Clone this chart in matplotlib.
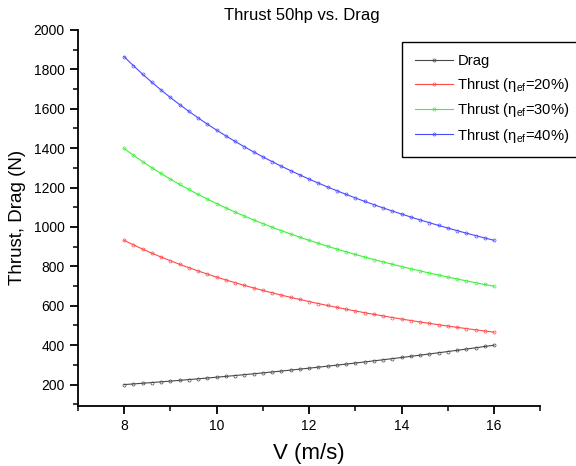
import numpy as np
import matplotlib
matplotlib.use("Agg")
import matplotlib.pyplot as plt
from matplotlib.ticker import MultipleLocator

plt.rcParams['font.family'] = ['Liberation Sans', 'DejaVu Sans']
plt.rcParams['mathtext.fontset'] = 'custom'
plt.rcParams['mathtext.rm'] = 'Liberation Sans'
plt.rcParams['mathtext.it'] = 'Liberation Sans'
plt.rcParams['mathtext.default'] = 'regular'

# Data (speed in m/s, force in N)
v = [8.0, 8.2, 8.4, 8.6, 8.8, 9.0, 9.2, 9.4, 9.6, 9.8,
     10.0, 10.2, 10.4, 10.6, 10.8, 11.0, 11.2, 11.4, 11.6, 11.8,
     12.0, 12.2, 12.4, 12.6, 12.8, 13.0, 13.2, 13.4, 13.6, 13.8,
     14.0, 14.2, 14.4, 14.6, 14.8, 15.0, 15.2, 15.4, 15.6, 15.8, 16.0]

drag = [200.0, 203.4, 206.8, 210.4, 214.0, 217.7, 221.5, 225.4, 229.3, 233.4,
        237.5, 241.7, 246.0, 250.4, 254.8, 259.4, 264.0, 268.7, 273.5, 278.4,
        283.3, 288.4, 293.5, 298.7, 304.0, 309.4, 314.8, 320.4, 326.0, 331.7,
        337.5, 343.4, 349.3, 355.4, 361.5, 367.7, 374.0, 380.4, 386.8, 393.4, 400.0]

thrust_20 = [932.1, 909.4, 887.7, 867.1, 847.4, 828.6, 810.5, 793.3, 776.8, 760.9,
             745.7, 731.1, 717.0, 703.5, 690.5, 677.9, 665.8, 654.1, 642.8, 631.9,
             621.4, 611.2, 601.4, 591.8, 582.6, 573.6, 564.9, 556.5, 548.3, 540.4,
             532.6, 525.1, 517.8, 510.8, 503.9, 497.1, 490.6, 484.2, 478.0, 472.0, 466.1]

thrust_30 = [1398.2, 1364.1, 1331.6, 1300.7, 1271.1, 1242.8, 1215.8, 1190.0, 1165.2, 1141.4,
             1118.6, 1096.6, 1075.5, 1055.3, 1035.7, 1016.9, 998.7, 981.2, 964.3, 947.9,
             932.1, 916.8, 902.1, 887.7, 873.9, 860.4, 847.4, 834.7, 822.5, 810.5,
             799.0, 787.7, 776.8, 766.1, 755.8, 745.7, 735.9, 726.3, 717.0, 707.9, 699.1]

thrust_40 = [1864.3, 1818.8, 1775.5, 1734.2, 1694.8, 1657.1, 1621.1, 1586.6, 1553.5, 1521.8,
             1491.4, 1462.2, 1434.0, 1407.0, 1380.9, 1355.8, 1331.6, 1308.2, 1285.7, 1263.9,
             1242.8, 1222.5, 1202.7, 1183.7, 1165.2, 1147.2, 1129.8, 1113.0, 1096.6, 1080.7,
             1065.3, 1050.3, 1035.7, 1021.5, 1007.7, 994.3, 981.2, 968.4, 956.0, 943.9, 932.1]

series = [
    (drag, "#484848", "Drag"),
    (thrust_20, "#ff4a4a", r"Thrust ($\eta_{ef}$=20%)"),
    (thrust_30, "#40ee40", r"Thrust ($\eta_{ef}$=30%)"),
    (thrust_40, "#4a4aff", r"Thrust ($\eta_{ef}$=40%)"),
]

fig = plt.figure(figsize=(5.76, 4.66), dpi=100)
ax = fig.add_axes([0.135, 0.129, 0.803, 0.807])

for vals, col, lab in series:
    ax.plot(v, vals, color=col, lw=0.8, marker="o", ms=2.2, mfc="none",
            mec=col, mew=0.5, label=lab)

ax.set_xlim(7, 17)
ax.set_ylim(92, 2000)
ax.xaxis.set_major_locator(MultipleLocator(2))
ax.xaxis.set_minor_locator(MultipleLocator(1))
ax.yaxis.set_major_locator(MultipleLocator(200))
ax.yaxis.set_minor_locator(MultipleLocator(100))
ax.set_yticks(np.arange(200, 2001, 200))

ax.spines["top"].set_visible(False)
ax.spines["right"].set_visible(False)
ax.spines["left"].set_lw(1.3)
ax.spines["bottom"].set_lw(1.3)
ax.tick_params(which="major", direction="out", length=6, width=1.3, labelsize=10)
ax.tick_params(which="minor", direction="out", length=3.5, width=1.1)

fig.text(0.524, 0.966, "Thrust 50hp vs. Drag", fontsize=12, ha="center", va="center")
ax.set_xlabel("V (m/s)", fontsize=16, labelpad=7)
ax.set_ylabel("Thrust, Drag (N)", fontsize=13.5, labelpad=5)

# Legend box runs off the right edge of the figure, as in the original
fig.legend(loc="upper left", bbox_to_anchor=(0.698, 0.91), fontsize=10.6,
           frameon=True, fancybox=False, edgecolor="black", framealpha=1,
           handlelength=2.6, handletextpad=0.3, labelspacing=0.5,
           borderpad=0.85, borderaxespad=0)

fig.set_facecolor("white")
plt.savefig("out.png", dpi=100)
